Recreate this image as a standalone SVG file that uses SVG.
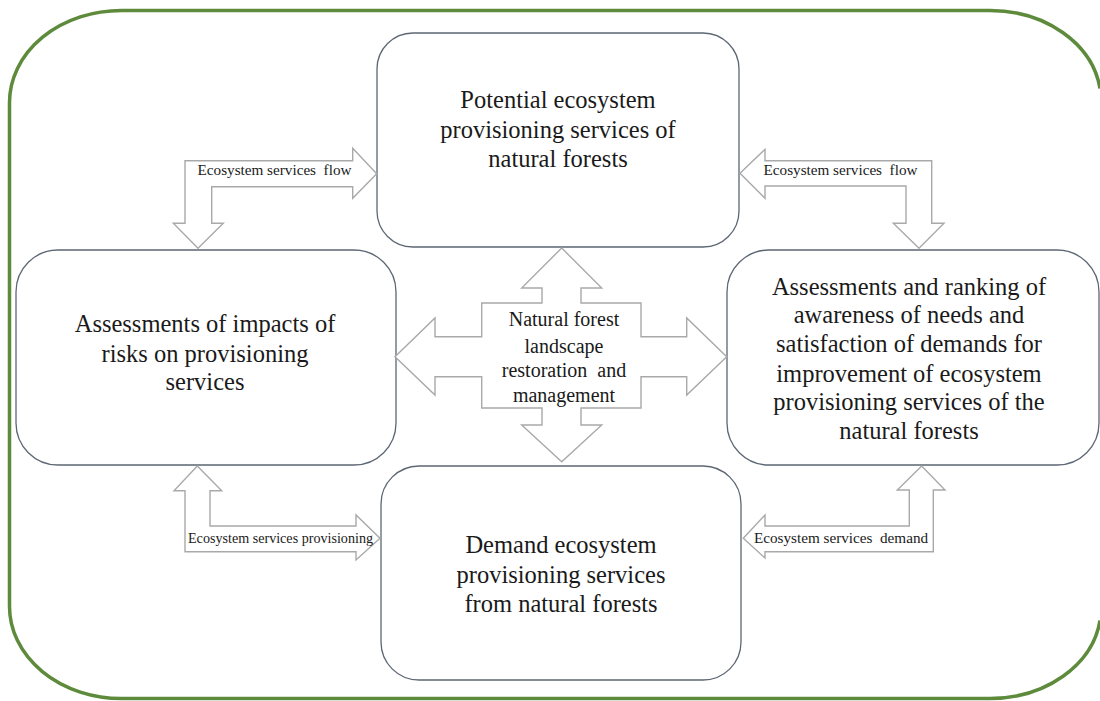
<svg xmlns="http://www.w3.org/2000/svg" width="1100" height="701" viewBox="0 0 1100 701">
  <style>
    .frame { fill: none; stroke: #5e8a3c; stroke-width: 3.5; }
    .box { fill: #ffffff; stroke: #5d6673; stroke-width: 1.3; }
    .arrow { fill: #ffffff; stroke: #a9a9a9; stroke-width: 1.4; stroke-linejoin: miter; }
    .t { font-family: "Liberation Serif", "Times New Roman", serif; fill: #1a1a1a; text-anchor: middle; }
    .big { font-size: 24.5px; }
    .mid { font-size: 20px; }
    .small { font-size: 15.2px; }
  </style>

  <rect x="0" y="0" width="1100" height="701" fill="#ffffff"/>

  <!-- outer green frame; its right side is cut off by the page edge -->
  <path class="frame" d="M1100 88.5 A111 90 0 0 0 990 10.5 H121.5 A112 92 0 0 0 9.5 102.5 V606.5 A112 92 0 0 0 121.5 698.5 H990 A111 90 0 0 0 1100 620.5"/>

  <!-- nodes -->
  <g id="potential">
    <rect class="box" x="377" y="33" width="362" height="214" rx="36"/>
    <text class="t big" x="558" y="108">Potential ecosystem</text>
    <text class="t big" x="558" y="138">provisioning services of</text>
    <text class="t big" x="558" y="167">natural forests</text>
  </g>

  <g id="risks">
    <rect class="box" x="16" y="250" width="380" height="215" rx="42"/>
    <text class="t big" x="205" y="332">Assessments of impacts of</text>
    <text class="t big" x="205" y="362">risks on provisioning</text>
    <text class="t big" x="205" y="390">services</text>
  </g>

  <g id="ranking">
    <rect class="box" x="727" y="250" width="372" height="215" rx="42"/>
    <text class="t big" x="909" y="295">Assessments and ranking of</text>
    <text class="t big" x="909" y="323">awareness of needs and</text>
    <text class="t big" x="909" y="352">satisfaction of demands for</text>
    <text class="t big" x="909" y="382">improvement of ecosystem</text>
    <text class="t big" x="909" y="410">provisioning services of the</text>
    <text class="t big" x="909" y="439">natural forests</text>
  </g>

  <g id="demand">
    <rect class="box" x="381" y="466" width="360" height="214" rx="38"/>
    <text class="t big" x="561" y="553">Demand ecosystem</text>
    <text class="t big" x="561" y="583">provisioning services</text>
    <text class="t big" x="561" y="612">from natural forests</text>
  </g>

  <g id="restoration">
    <path class="arrow" d="M561.7 248 L601.7 288 L581 288 L581 303 L641 303 L641 336.7 L686.7 336.7 L686.7 318 L726.7 356.7 L686.7 395 L686.7 376.7 L641 376.7 L641 408 L581 408 L581 425 L601.7 425 L561.7 461.7 L521.7 425 L542 425 L542 408 L481.7 408 L481.7 376.7 L435 376.7 L435 395 L395 356.7 L435 318 L435 336.7 L481.7 336.7 L481.7 303 L542 303 L542 288 L521.7 288 Z"/>
    <text class="t mid" x="564" y="326">Natural forest</text>
    <text class="t mid" x="564" y="353">landscape</text>
    <text class="t mid" x="564" y="377" xml:space="preserve">restoration  and</text>
    <text class="t mid" x="564" y="402">management</text>
  </g>

  <!-- connectors -->
  <g id="connectors">
    <!-- risks <-> potential -->
    <path class="arrow" d="M185 223.3 L173.3 223.3 L198 248.3 L223.3 223.3 L211.7 223.3 L211.7 186.7 L352.7 186.7 L352.7 198.3 L376.7 173.7 L352.7 148.3 L352.7 160.7 L185 160.7 Z"/>
    <text class="t small" x="274.5" y="175" xml:space="preserve">Ecosystem services  flow</text>

    <!-- potential <-> ranking -->
    <path class="arrow" d="M740 173.3 L765 149.3 L765 160.7 L931.7 160.7 L931.7 223.3 L944 223.3 L919 248.3 L893.3 223.3 L906 223.3 L906 186 L765 186 L765 198.3 Z"/>
    <text class="t small" x="840.5" y="175" xml:space="preserve">Ecosystem services  flow</text>

    <!-- risks <-> demand -->
    <path class="arrow" d="M197.3 466 L221.7 490.7 L210 490.7 L210 526 L356 526 L356 515 L380 538.3 L356 560 L356 551.7 L185 551.7 L185 490.7 L174 490.7 Z"/>
    <text class="t small" x="280.5" y="542.7" textLength="185" lengthAdjust="spacingAndGlyphs">Ecosystem services provisioning</text>

    <!-- demand <-> ranking -->
    <path class="arrow" d="M921.7 466 L945 490 L933.3 490 L933.3 551.7 L765 551.7 L765 558 L743.3 538.3 L765 515 L765 526 L909.3 526 L909.3 490 L897.3 490 Z"/>
    <text class="t small" x="841" y="542.7" xml:space="preserve">Ecosystem services  demand</text>
  </g>
</svg>
